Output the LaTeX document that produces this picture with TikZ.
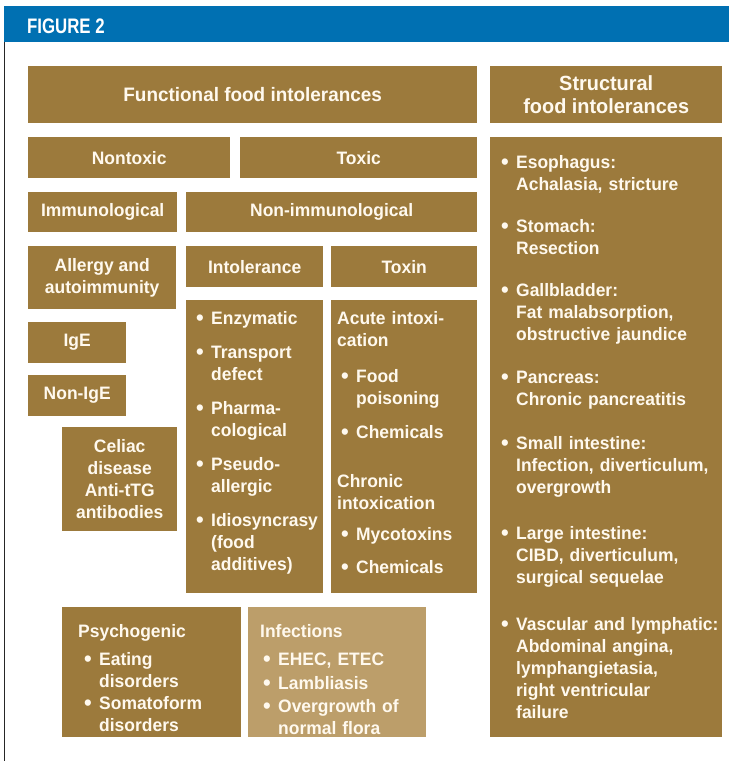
\documentclass[tikz,border=0pt]{standalone}
\usepackage{fontspec}
\setmainfont{Liberation Sans Bold}[FakeStretch=0.97]
\definecolor{brn}{HTML}{9C7A3C}
\definecolor{brnlight}{HTML}{BC9E6A}
\definecolor{figblue}{HTML}{0070B2}
\definecolor{crm}{HTML}{FFF9EE}
\newcommand*{\fsz}{\fontsize{18}{22}\selectfont}
\newcommand*{\bul}[1][]{\if\relax\detokenize{#1}\relax\else\par\vspace{#1}\fi
    \hangindent=15pt\hangafter=1\noindent\makebox[15pt][l]{\raisebox{-1.8pt}{\scalebox{1.25}{\textbullet}}}\ignorespaces}
\tikzset{
    box/.style   = {fill=brn, anchor=north west, inner sep=0pt, text=crm, align=center, font=\fsz},
    items/.style = {anchor=base west, inner sep=0pt, text=crm, align=left, font=\fsz},
}

\begin{document}
\begin{tikzpicture}[x=1pt, y=-1pt]
    \useasboundingbox (0,0) rectangle (729,761);
    \fill [figblue] (4,6) rectangle (729,42);
    \draw [line width=1.2pt, black!85] (4.6,42) -- (4.6,761);
    \node [anchor=base west, inner sep=0pt, text=white, font=\fontsize{21}{24}\selectfont\addfontfeatures{FakeStretch=0.8}] (fig) at (27,33) {FIGURE 2};
    % functional side
    \node [box, minimum width=449pt, minimum height=57pt, font=\fontsize{19.5}{23}\selectfont] (func) at ( 28, 66) {Functional food intolerances};
    \node [box, minimum width=202pt, minimum height=41pt] (nontox) at ( 28,137) {Nontoxic};
    \node [box, minimum width=237pt, minimum height=41pt] (tox)    at (240,137) {Toxic};
    \node [box, minimum width=149pt, minimum height=40pt] (immu)   at ( 28,192) {Immunological};
    \node [box, minimum width=291pt, minimum height=40pt] (nonimm) at (186,192) {Non-immunological};
    \node [box, minimum width=148pt, minimum height=63pt] (allerg) at ( 28,246) {Allergy and\\autoimmunity};
    \node [box, minimum width=137pt, minimum height=41pt] (intol)  at (186,246) {Intolerance};
    \node [box, minimum width=146pt, minimum height=41pt] (toxin)  at (331,246) {Toxin};
    \node [box, minimum width= 98pt, minimum height=41pt] (ige)    at ( 28,322) {IgE};
    \node [box, minimum width= 98pt, minimum height=41pt] (nonige) at ( 28,375) {Non-IgE};
    \node [box, minimum width=115pt, minimum height=104pt] (celiac) at ( 62,427) {Celiac\\disease\\Anti-tTG\\antibodies};
    \node [box, minimum width=137pt, minimum height=293pt] (intlst) at (186,300) {};
    \node [box, minimum width=146pt, minimum height=293pt] (toxlst) at (331,300) {};
    \node [items, text width=125pt] (intitm) at (196,324) {\bul Enzymatic
        \bul[12pt] Transport\newline defect
        \bul[12pt] Pharma-\newline cological
        \bul[12pt] Pseudo-\newline allergic
        \bul[12pt] Idiosyncrasy\newline (food\newline additives)\par};
    \node [items, text width=136pt] (acute)  at (337,324) {Acute intoxi-\\cation};
    \node [items, text width=130pt] (acuitm) at (341,382) {\bul Food\newline poisoning
        \bul[12pt] Chemicals\par};
    \node [items, text width=136pt] (chron)  at (337,487) {Chronic\\intoxication};
    \node [items, text width=130pt] (chritm) at (341,540) {\bul Mycotoxins
        \bul[11pt] Chemicals\par};
    % bottom row
    \node [box, minimum width=179pt, minimum height=130pt] (psych) at ( 62,607) {};
    \node [box, fill=brnlight, minimum width=178pt, minimum height=130pt] (infect) at (248,607) {};
    \node [items, text width=160pt] (psyhd)  at ( 78,637) {Psychogenic};
    \node [items, text width=150pt] (psyitm) at ( 84,665) {\bul Eating\newline disorders
        \bul[0pt] Somatoform\newline disorders\par};
    \node [items, text width=160pt] (infhd)  at (260,637) {Infections};
    \node [items, text width=160pt] (infitm) at (263,665) {\bul EHEC, ETEC
        \bul[2pt] Lambliasis
        \bul[1pt] Overgrowth of\newline normal flora\par};
    % structural side
    \node [box, minimum width=232pt, minimum height=57pt, font=\fontsize{20.5}{23}\selectfont] (struct) at (490, 66) {Structural\\food intolerances};
    \node [box, minimum width=232pt, minimum height=600pt] (strlst) at (490,137) {};
    \node [items, text width=220pt] (stritm) at (501,168) {\bul Esophagus:\newline Achalasia, stricture
        \bul[20pt] Stomach:\newline Resection
        \bul[20pt] Gallbladder:\newline Fat malabsorption,\newline obstructive jaundice
        \bul[21pt] Pancreas:\newline Chronic pancreatitis
        \bul[22pt] Small intestine:\newline Infection, diverticulum,\newline overgrowth
        \bul[24pt] Large intestine:\newline CIBD, diverticulum,\newline surgical sequelae
        \bul[25pt] Vascular and lymphatic:\newline Abdominal angina,\newline lymphangietasia,\newline right ventricular\newline failure\par};
\end{tikzpicture}
\end{document}
